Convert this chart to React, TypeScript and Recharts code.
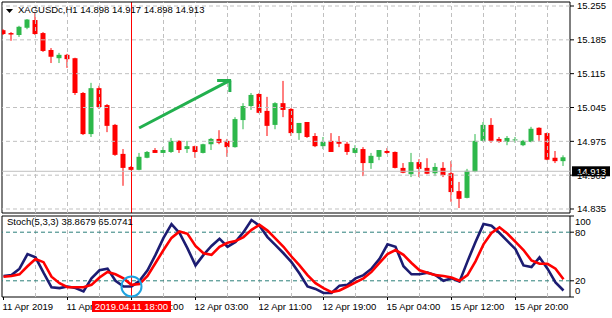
import { Bar, ComposedChart, Line, ReferenceArea, ReferenceDot, ReferenceLine, XAxis, YAxis } from "recharts"

const FONT = "'Liberation Sans', Arial, sans-serif"
const RED = "#ff0000"
const GREEN = "#2db84a"
const ARROW = "#22b04e"
const GRID = "#c0c0c0"
const NAVY = "#1c1c72"
const TEAL = "#2b7f7a"

// H1 candles, XAGUSDc
const opens = [
  15.205, 15.199, 15.195, 15.21, 15.226, 15.199, 15.164, 15.147, 15.154, 15.147,
  15.075, 14.99, 15.085, 15.05, 15.009, 14.949, 14.922, 14.916, 14.941, 14.957,
  14.951, 14.953, 14.976, 14.959, 14.965, 14.951, 14.969, 14.98, 14.976, 14.963,
  15.019, 15.048, 15.073, 15.038, 15.009, 15.054, 15.042, 14.992, 15.015, 14.986,
  14.965, 14.976, 14.974, 14.97, 14.951, 14.959, 14.93, 14.943, 14.955, 14.953,
  14.92, 14.907, 14.932, 14.92, 14.909, 14.92, 14.909, 14.872, 14.858, 14.912,
  14.976, 15.009, 14.98, 14.974, 14.978, 14.967, 14.974, 15.003, 14.992, 14.941,
  14.934,
]
const highs = [
  15.207, 15.201, 15.214, 15.228, 15.241, 15.201, 15.168, 15.158, 15.156, 15.148,
  15.077, 15.096, 15.09, 15.052, 15.011, 14.959, 14.924, 14.951, 14.955, 14.961,
  14.963, 14.982, 14.977, 14.976, 14.966, 14.97, 14.982, 14.998, 14.98, 15.025,
  15.054, 15.075, 15.075, 15.067, 15.056, 15.1, 15.044, 15.013, 15.015, 14.992,
  14.984, 14.992, 14.986, 14.974, 14.967, 14.963, 14.951, 14.957, 14.961, 14.954,
  14.93, 14.951, 14.938, 14.94, 14.93, 14.932, 14.934, 14.891, 14.918, 14.99,
  15.015, 15.023, 14.984, 14.986, 14.984, 14.978, 15.005, 15.004, 14.993, 14.955,
  14.946,
]
const lows = [
  15.195, 15.183, 15.191, 15.207, 15.195, 15.16, 15.137, 15.137, 15.127, 15.071,
  14.988, 14.984, 15.042, 14.994, 14.945, 14.883, 14.915, 14.915, 14.94, 14.951,
  14.951, 14.951, 14.951, 14.951, 14.941, 14.95, 14.957, 14.969, 14.943, 14.962,
  15.0, 15.04, 15.033, 14.986, 15.0, 15.025, 14.986, 14.978, 14.982, 14.963,
  14.959, 14.953, 14.963, 14.947, 14.95, 14.903, 14.918, 14.936, 14.949, 14.919,
  14.909, 14.901, 14.901, 14.907, 14.903, 14.901, 14.85, 14.837, 14.857, 14.911,
  14.975, 14.972, 14.972, 14.967, 14.972, 14.965, 14.973, 14.976, 14.936, 14.93,
  14.924,
]
const closes = [
  15.197, 15.196, 15.212, 15.227, 15.197, 15.162, 15.15, 15.154, 15.145, 15.075,
  14.99, 15.085, 15.046, 15.007, 14.947, 14.92, 14.916, 14.943, 14.953, 14.951,
  14.957, 14.976, 14.957, 14.965, 14.953, 14.969, 14.98, 14.972, 14.963, 15.021,
  15.048, 15.071, 15.034, 15.007, 15.054, 15.04, 14.992, 15.013, 14.984, 14.965,
  14.974, 14.953, 14.97, 14.953, 14.961, 14.93, 14.945, 14.957, 14.951, 14.92,
  14.91, 14.932, 14.918, 14.908, 14.922, 14.905, 14.87, 14.856, 14.914, 14.976,
  15.009, 14.976, 14.974, 14.982, 14.979, 14.976, 15.001, 14.988, 14.937, 14.934,
  14.942,
]

// Stoch(5,3,3): main (%K) and signal (%D)
const stochK = [
  26, 27, 35, 53, 49, 30, 12, 11, 13, 11,
  7, 23, 33, 35, 20, 13, 13, 20, 33, 52,
  73, 90, 79, 60, 39, 52, 63, 72, 62, 68,
  80, 95, 88, 74, 64, 54, 43, 29, 13, 10,
  5, 5, 14, 15, 23, 27, 35, 47, 65, 62,
  38, 28, 28, 30, 27, 20, 23, 19, 44, 68,
  90, 88, 79, 69, 59, 39, 37, 49, 35, 18,
  8,
]
const stochD = [
  25, 26, 28, 38, 47, 43, 25, 17, 12, 12,
  12, 15, 24, 31, 28, 23, 15, 16, 26, 42,
  58, 73, 81, 78, 63, 54, 52, 62, 67, 69,
  74, 83, 89, 82, 72, 62, 50, 39, 27, 17,
  11, 6, 8, 13, 18, 23, 31, 42, 53, 58,
  52, 42, 33, 30, 27, 26, 24, 20, 27, 44,
  65, 79, 86, 78, 68, 58, 45, 41, 41, 35,
  22,
]

const timeTicks = [0, 8, 16, 24, 32, 40, 48, 56, 64]
const timeLabels = [
  "11 Apr 2019", "11 Apr 10:00", "11 Apr 18:00", "12 Apr 03:00", "12 Apr 11:00",
  "12 Apr 19:00", "15 Apr 04:00", "15 Apr 12:00", "15 Apr 20:00",
]
const gridX = [4, 8, 12, 16, 20, 24, 28, 32, 36, 40, 44, 48, 52, 56, 60, 64, 68]
const priceTicks = [14.835, 14.905, 14.975, 15.045, 15.115, 15.185, 15.255]
const stochLevels = [0, 20, 80, 100]
const lastPrice = 14.913
const crossIdx = 16
const crossLabel = "2019.04.11 18:00"

const X_MIN = -0.1875
const X_MAX = 70.8125
const P_MIN = 14.8267
const P_MAX = 15.2633
const HALF_PX = 0.0625 // half a pixel in bar units (8px per bar)

const candles = opens.map((open, i) => ({
  i, open, high: highs[i], low: lows[i], close: closes[i], range: [lows[i], highs[i]],
}))
const stoch = stochK.map((k, i) => ({ i, k, d: stochD[i] }))
const gridNoCross = gridX.filter((v) => v !== crossIdx)

const Candle = (props: any) => {
  const { x, y, width, height, payload } = props
  if (!payload) return null
  const { open, close, high, low } = payload
  const color = close >= open ? GREEN : RED
  const top = Math.min(y, y + height)
  const h = Math.abs(height)
  const ppu = high > low ? h / (high - low) : 0
  const yo = top + (high - open) * ppu
  const yc = top + (high - close) * ppu
  const cx = x + width / 2
  return (
    <g>
      <line x1={cx} x2={cx} y1={top} y2={top + h} stroke={color} strokeWidth={1} />
      <rect x={x} y={Math.min(yo, yc)} width={width} height={Math.max(1, Math.abs(yc - yo))} fill={color} />
    </g>
  )
}

const PriceLabel = (props: any) => {
  const vb = props.viewBox || {}
  const right = vb.x + vb.width
  return (
    <g>
      <rect x={right + 2} y={vb.y - 5} width={38} height={10} fill="#000" />
      <text x={right + 7} y={vb.y} dy="0.35em" fill="#fff" fontSize={9.5} fontFamily={FONT}>
        {lastPrice.toFixed(3)}
      </text>
    </g>
  )
}

const TimeTick = (props: any) => {
  const { x, y, payload } = props
  const label = timeLabels[timeTicks.indexOf(payload.value)]
  return (
    <g>
      <text x={x - 1} y={y} dy="0.71em" textAnchor="start" fill="#000" fontSize={9.5} fontFamily={FONT}>
        {label}
      </text>
      {payload.value === crossIdx && (
        <g>
          <rect x={x - 39.5} y={y - 2} width={79} height={11} fill={RED} />
          <text x={x} y={y} dy="0.71em" textAnchor="middle" fill="#fff" fontSize={9.5} fontFamily={FONT}>
            {crossLabel}
          </text>
        </g>
      )}
    </g>
  )
}

const LevelTick = (props: any) => {
  const { x, y, payload } = props
  const shift = payload.value === 100 ? 6 : payload.value === 0 ? -6 : 0
  return (
    <text x={x} y={y + shift} dy="0.35em" textAnchor="start" fill="#000" fontSize={9.5} fontFamily={FONT}>
      {payload.value}
    </text>
  )
}

export default function App() {
  return (
    <div style={{ position: "absolute", left: 0, top: 0, width: 612, height: 318, background: "#fff", fontFamily: FONT }}>
      <div style={{ position: "absolute", left: 0, top: 0 }}>
        <ComposedChart width={612} height={214} data={candles} margin={{ top: 2, right: 2, bottom: 1, left: 2 }}>
          <XAxis type="number" dataKey="i" domain={[X_MIN, X_MAX]} allowDataOverflow hide />
          <YAxis
            orientation="right"
            width={40}
            domain={[P_MIN, P_MAX]}
            allowDataOverflow
            ticks={priceTicks}
            interval={0}
            tickFormatter={(v: number) => v.toFixed(3)}
            axisLine={false}
            tickLine={{ stroke: "#000" }}
            tickSize={4}
            tickMargin={3}
            tick={{ fill: "#000", fontSize: 9.5, fontFamily: FONT }}
          />
          {priceTicks.map((p) => (
            <ReferenceLine key={"h" + p} y={p} stroke={GRID} strokeDasharray="4 3" />
          ))}
          {gridNoCross.map((v) => (
            <ReferenceLine key={"v" + v} x={v} stroke={GRID} strokeDasharray="4 3" />
          ))}
          <ReferenceLine y={lastPrice} stroke={GRID} label={<PriceLabel />} />
          <ReferenceArea
            x1={crossIdx - HALF_PX}
            x2={crossIdx + HALF_PX}
            y1={P_MIN}
            y2={P_MAX}
            fill={RED}
            fillOpacity={1}
            stroke="none"
          />
          <Bar dataKey="range" barSize={5} shape={<Candle />} isAnimationActive={false} />
          <ReferenceLine segment={[{ x: 16.95, y: 15.0026 }, { x: 28.25, y: 15.1005 }]} stroke={ARROW} strokeWidth={3} />
          <ReferenceLine segment={[{ x: 26.7, y: 15.1009 }, { x: 28.45, y: 15.1009 }]} stroke={ARROW} strokeWidth={3} />
          <ReferenceLine segment={[{ x: 28.3, y: 15.1009 }, { x: 28.3, y: 15.077 }]} stroke={ARROW} strokeWidth={3} />
          <ReferenceArea x1={X_MIN} x2={X_MAX} y1={P_MIN} y2={P_MAX} fill="none" stroke="#000" ifOverflow="visible" />
        </ComposedChart>
      </div>
      <div style={{ position: "absolute", left: 0, top: 214 }}>
        <ComposedChart width={612} height={104} data={stoch} margin={{ top: 2, right: 2, bottom: 0, left: 2 }}>
          <XAxis
            type="number"
            dataKey="i"
            domain={[X_MIN, X_MAX]}
            allowDataOverflow
            ticks={timeTicks}
            interval={0}
            tick={<TimeTick />}
            tickSize={3}
            tickMargin={3}
            tickLine={{ stroke: "#000" }}
            axisLine={false}
            height={21}
          />
          <YAxis
            orientation="right"
            width={40}
            domain={[0, 100]}
            allowDataOverflow
            ticks={stochLevels}
            interval={0}
            tick={<LevelTick />}
            tickSize={4}
            tickMargin={1}
            axisLine={false}
            tickLine={{ stroke: "#000" }}
          />
          {gridNoCross.map((v) => (
            <ReferenceLine key={"sv" + v} x={v} stroke={GRID} strokeDasharray="4 3" />
          ))}
          <ReferenceLine y={80} stroke={TEAL} strokeDasharray="4 3" />
          <ReferenceLine y={20} stroke={TEAL} strokeDasharray="4 3" />
          <ReferenceArea
            x1={crossIdx - HALF_PX}
            x2={crossIdx + HALF_PX}
            y1={0}
            y2={100}
            fill={RED}
            fillOpacity={1}
            stroke="none"
          />
          <Line type="linear" dataKey="k" stroke={NAVY} strokeWidth={2.6} dot={false} isAnimationActive={false} />
          <Line type="linear" dataKey="d" stroke={RED} strokeWidth={2.6} dot={false} isAnimationActive={false} />
          <ReferenceDot x={crossIdx} y={13} r={10} fill="none" stroke="#1ea3e0" strokeWidth={2} />
          <ReferenceArea x1={X_MIN} x2={X_MAX} y1={0} y2={100} fill="none" stroke="#000" ifOverflow="visible" />
        </ComposedChart>
      </div>
      <svg style={{ position: "absolute", left: 6, top: 9 }} width={7} height={4}>
        <polygon points="0,0 7,0 3.5,4" fill="#000" />
      </svg>
      <div style={{ position: "absolute", left: 18, top: 4, fontSize: 9.5, lineHeight: "12px", color: "#000", whiteSpace: "nowrap" }}>
        XAGUSDc,H1 14.898 14.917 14.898 14.913
      </div>
      <div style={{ position: "absolute", left: 7, top: 216, fontSize: 9.5, lineHeight: "12px", color: "#000", whiteSpace: "nowrap" }}>
        Stoch(5,3,3) 38.8679 65.0741
      </div>
    </div>
  )
}
